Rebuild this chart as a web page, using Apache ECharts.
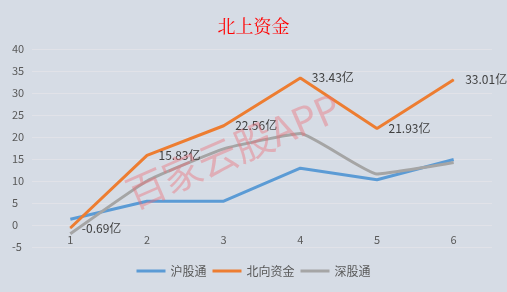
<!DOCTYPE html>
<html><head><meta charset="utf-8">
<script src="https://cdn.jsdelivr.net/npm/echarts@6/dist/echarts.min.js"></script>
<style>html,body{margin:0;padding:0;background:#d6dce5;}#c{width:507px;height:292px;}</style>
</head><body><div id="c"></div>
<script>
var categories = ['1','2','3','4','5','6'];
var shanghai = [1.3, 5.4, 5.4, 12.9, 10.3, 14.9];
var northbound = [-0.69, 15.83, 22.56, 33.43, 21.93, 33.01];
var shenzhen = [-2.0, 10.0, 17.3, 20.8, 11.6, 14.2];
var seriesNames = ['沪股通', '北向资金', '深股通'];

var chart = echarts.init(document.getElementById('c'));
var font = '"Microsoft YaHei","Noto Sans CJK SC",sans-serif';
chart.setOption({
  backgroundColor: '#d6dce5',
  animation: false,
  title: {text: '北上资金', left: 'center', top: 12,
    textStyle: {color: '#ff0000', fontSize: 18, fontWeight: 'normal', fontFamily: '"Noto Serif CJK SC","Noto Sans CJK SC",serif'}},
  grid: {left: 32, right: 15, top: 49, bottom: 45},
  legend: {bottom: 10, left: 'center', itemWidth: 29, itemHeight: 3, itemGap: 6,
    icon: 'rect',
    textStyle: {color: '#595959', fontSize: 12, fontFamily: font},
    data: seriesNames},
  xAxis: {type: 'category', data: categories, boundaryGap: true,
    axisLine: {show: false, onZero: false}, axisTick: {show: false},
    axisLabel: {color: '#595959', fontSize: 11, margin: -13, fontFamily: font}},
  yAxis: {type: 'value', min: -5, max: 40, interval: 5,
    axisLine: {show: false}, axisTick: {show: false},
    axisLabel: {color: '#595959', fontSize: 11, margin: 14, align: 'left', fontFamily: font, padding: [0,0,0,-6]},
    splitLine: {lineStyle: {color: '#e1e2e8', width: 1}}},
  graphic: [{type: 'text', x: 136, y: 214, rotation: 0.41, silent: true, z: 100,
    style: {text: '百家云股APP', font: '39px "Noto Sans CJK SC"', fill: 'rgba(235,110,120,0.42)', textAlign: 'left', textVerticalAlign: 'bottom'}}],
  series: [
    {name: seriesNames[0], type: 'line', data: shanghai, symbol: 'none',
      lineStyle: {width: 3, color: '#5b9bd5'}, itemStyle: {color: '#5b9bd5'}},
    {name: seriesNames[1], type: 'line', data: northbound, symbol: 'circle', symbolSize: 1, showSymbol: true, z: 3,
      lineStyle: {width: 3, color: '#ed7d31'}, itemStyle: {color: '#ed7d31'},
      labelLayout: {hideOverlap: false},
      label: {show: true, position: 'right', distance: 11, color: '#404040', fontSize: 12, fontFamily: font,
        formatter: function(p){ return p.value + '亿'; }}},
    {name: seriesNames[2], type: 'line', data: shenzhen, symbol: 'none', smooth: 0.12,
      lineStyle: {width: 3, color: '#a5a5a5'}, itemStyle: {color: '#a5a5a5'}}
  ]
});
</script></body></html>
